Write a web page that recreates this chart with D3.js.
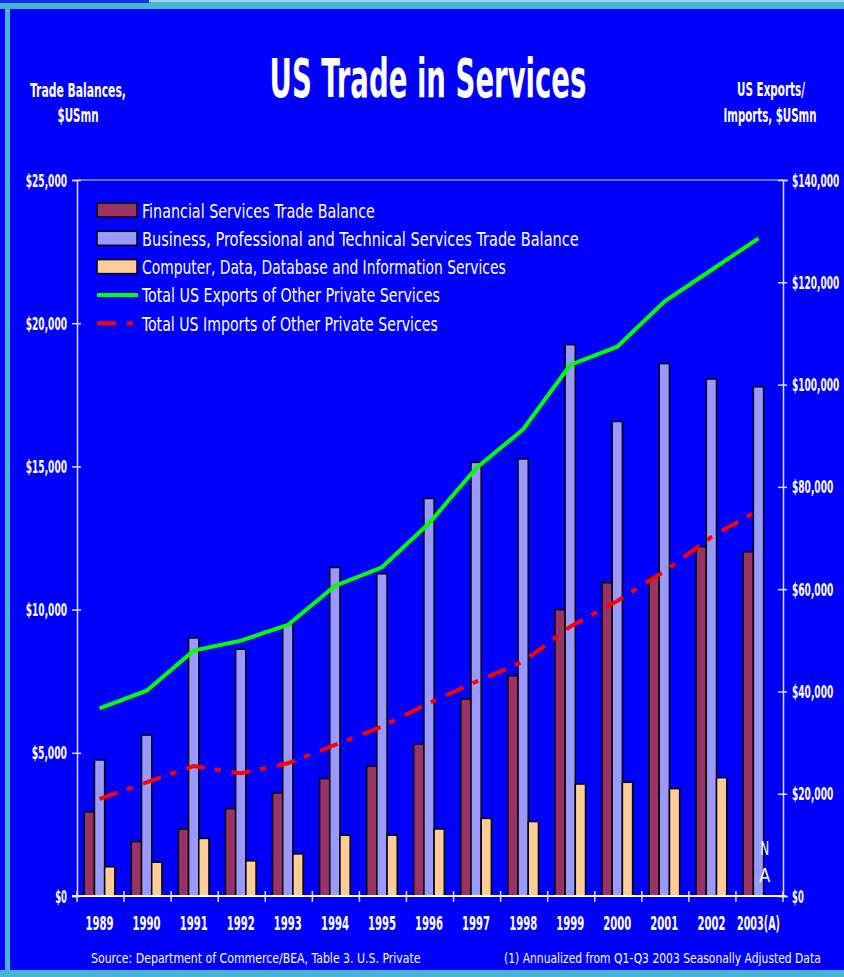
<!DOCTYPE html>
<html>
<head>
<meta charset="utf-8">
<script src="https://cdn.jsdelivr.net/npm/d3@7"></script>
<style>
  body { margin: 0; background: #0000ff; }
  svg text { font-family: "Liberation Sans Narrow", "Arial Narrow", "DejaVu Sans Condensed", sans-serif; fill: #ffffff; }
</style>
</head>
<body>
<svg id="chart" width="844" height="977"></svg>
<script>
const years = ["1989","1990","1991","1992","1993","1994","1995","1996","1997","1998","1999","2000","2001","2002","2003(A)"];
const financial = [2940,1900,2340,3050,3600,4100,4540,5300,6880,7690,10000,10940,11150,12200,12020];
const business = [4750,5620,9010,8620,9500,11470,11250,13880,15140,15260,19250,16570,18590,18050,17780];
const computer = [1020,1180,2010,1230,1470,2120,2120,2340,2710,2600,3910,3970,3750,4130,null];
const exportsTotal = [36700,40150,47970,49930,53000,60620,64270,72880,83630,91260,103830,107410,116210,122400,128600];
const importsTotal = [18970,22230,25420,23990,25950,29530,33110,37750,41900,45810,52660,57700,63500,70200,75480];
const leftTicks = [0,5000,10000,15000,20000,25000];
const rightTicks = [0,20000,40000,60000,80000,100000,120000,140000];

const barSeries = [
  {key: "fin", name: "Financial Services Trade Balance", values: financial, color: "#993366"},
  {key: "bus", name: "Business, Professional and Technical Services Trade Balance", values: business, color: "#9999ff"},
  {key: "comp", name: "Computer, Data, Database and Information Services", values: computer, color: "#ffcc99"}
];
const lineSeries = [
  {name: "Total US Exports of Other Private Services", values: exportsTotal, color: "#00ff00", dash: null},
  {name: "Total US Imports of Other Private Services", values: importsTotal, color: "#ff0000", dash: "19,10,6,11"}
];

const svg = d3.select("#chart");
const plot = {left: 77, right: 783, top: 180, bottom: 896};

// squeeze a text horizontally to a given width, keeping its anchor point
function fit(sel, px, py, w) {
  sel.each(function() {
    const len = this.getComputedTextLength();
    const sx = len > 0 ? w / len : 1;
    d3.select(this).attr("x", 0).attr("y", 0)
      .attr("transform", `translate(${px},${py}) scale(${sx},1)`);
  });
}

// frame strips
svg.append("rect").attr("x", 0).attr("y", 0).attr("width", 844).attr("height", 977).attr("fill", "#0000ff");
svg.append("rect").attr("x", 0).attr("y", 0).attr("width", 844).attr("height", 3).attr("fill", "#a0d0ec");
svg.append("rect").attr("x", 0).attr("y", 2).attr("width", 844).attr("height", 7).attr("fill", "#48b4d4");
svg.append("rect").attr("x", 0).attr("y", 0).attr("width", 149).attr("height", 3).attr("fill", "#1a30f0");
svg.append("rect").attr("x", 5).attr("y", 9).attr("width", 5).attr("height", 968).attr("fill", "#48b4d4");
svg.append("rect").attr("x", 0).attr("y", 970).attr("width", 844).attr("height", 7).attr("fill", "#48b4d4");

// titles
svg.append("text").attr("text-anchor", "middle")
  .style("font-size", "53px").style("font-weight", "bold").text("US Trade in Services")
  .call(fit, 428, 97, 317);
const axisTitles = [
  {t: "Trade Balances,", x: 78, y: 97, w: 96},
  {t: "$USmn", x: 78, y: 122, w: 41},
  {t: "US Exports/", x: 771, y: 96, w: 68},
  {t: "Imports, $USmn", x: 770, y: 122, w: 93}
];
axisTitles.forEach(a => {
  svg.append("text").attr("text-anchor", "middle")
    .style("font-size", "19px").style("font-weight", "bold").text(a.t).call(fit, a.x, a.y, a.w);
});

// scales
const x = d3.scaleBand().domain(years).range([plot.left, plot.right])
  .paddingInner(0.35).paddingOuter(0.175).align(0.44);
const xSub = d3.scaleBand().domain(barSeries.map(s => s.key)).range([0, x.bandwidth()]);
const yLeft = d3.scaleLinear().domain([0, 25000]).range([plot.bottom, plot.top]);
const yRight = d3.scaleLinear().domain([0, 140000]).range([plot.bottom, plot.top]);
const money = d => "$" + d3.format(",")(d);

// top border of plot
svg.append("line").attr("x1", plot.left).attr("x2", plot.right)
  .attr("y1", plot.top).attr("y2", plot.top)
  .attr("stroke", "#7070a8").attr("stroke-width", 2);

// bars
const groups = svg.append("g").selectAll("g").data(years).join("g")
  .attr("transform", d => `translate(${x(d)},0)`);
groups.selectAll("rect")
  .data((d, i) => barSeries.filter(s => s.values[i] != null).map(s => ({key: s.key, color: s.color, value: s.values[i]})))
  .join("rect")
  .attr("x", d => xSub(d.key))
  .attr("width", xSub.bandwidth())
  .attr("y", d => yLeft(d.value))
  .attr("height", d => plot.bottom - yLeft(d.value))
  .attr("fill", d => d.color)
  .attr("stroke", "#000000")
  .attr("stroke-width", 1.5);

// N/A marker for missing computer services
computer.forEach((v, i) => {
  if (v == null) {
    const nx = x(years[i]) + xSub("comp") + xSub.bandwidth() / 2 - 4;
    svg.append("text").attr("text-anchor", "middle")
      .style("font-size", "20px").text("N").call(fit, nx, 855, 9);
    svg.append("text").attr("text-anchor", "middle")
      .style("font-size", "20px").text("A").call(fit, nx, 882, 11);
  }
});

// axes
const leftAxis = svg.append("g").attr("transform", `translate(${plot.left},0)`)
  .call(d3.axisLeft(yLeft).tickValues(leftTicks).tickFormat(money).tickSize(5));
leftAxis.selectAll(".tick line").attr("x1", 4).attr("x2", -5);
const rightAxis = svg.append("g").attr("transform", `translate(${plot.right},0)`)
  .call(d3.axisRight(yRight).tickValues(rightTicks).tickFormat(money).tickSize(5));
rightAxis.selectAll(".tick line").attr("x1", -5).attr("x2", 4);
[leftAxis, rightAxis].forEach(a => {
  a.select(".domain").attr("stroke", "#e0e0ff").attr("stroke-width", 1.5);
  a.selectAll(".tick line").attr("stroke", "#e0e0ff").attr("stroke-width", 1.5);
  a.selectAll(".tick text").style("font-size", "18px").style("font-weight", "bold")
    .attr("fill", "#ffffff").attr("dy", null);
});
leftAxis.selectAll(".tick text").each(function() {
  d3.select(this).call(fit, -10, 6, this.textContent.length * 5.9);
});
rightAxis.selectAll(".tick text").each(function() {
  d3.select(this).call(fit, 9, 6, this.textContent.length * 5.9);
});

// category axis
svg.append("line").attr("x1", 72).attr("x2", 786).attr("y1", plot.bottom).attr("y2", plot.bottom)
  .attr("stroke", "#ffffff").attr("stroke-width", 2);
svg.append("g").selectAll("line").data(d3.range(years.length + 1)).join("line")
  .attr("x1", i => plot.left + i * x.step()).attr("x2", i => plot.left + i * x.step())
  .attr("y1", plot.bottom - 5).attr("y2", plot.bottom + 6)
  .attr("stroke", "#e0e0ff").attr("stroke-width", 1.5);
svg.append("g").selectAll("text").data(years).join("text")
  .attr("text-anchor", "middle")
  .style("font-size", "19px").style("font-weight", "bold")
  .text(d => d)
  .each(function(d) {
    d3.select(this).call(fit, x(d) + x.bandwidth() / 2, 930, d.length === 4 ? 28 : 43);
  });

// lines
const cx = (d, i) => x(years[i]) + x.bandwidth() / 2;
lineSeries.forEach(s => {
  const line = d3.line().x((d, i) => cx(d, i)).y(d => yRight(d));
  svg.append("path").datum(s.values)
    .attr("d", line)
    .attr("fill", "none")
    .attr("stroke", s.color)
    .attr("stroke-width", 4)
    .attr("stroke-dasharray", s.dash);
});

// legend
const legend = svg.append("g").attr("transform", "translate(97,203)");
const rowH = 28.3;
const legendWidths = [233, 437, 364, 298, 296];
barSeries.forEach((s, i) => {
  legend.append("rect").attr("x", 0).attr("y", i * rowH).attr("width", 40).attr("height", 14)
    .attr("fill", s.color).attr("stroke", "#000000").attr("stroke-width", 1.5);
});
lineSeries.forEach((s, j) => {
  const i = barSeries.length + j;
  legend.append("line").attr("x1", 0).attr("x2", 41)
    .attr("y1", i * rowH + 7).attr("y2", i * rowH + 7)
    .attr("stroke", s.color).attr("stroke-width", 4)
    .attr("stroke-dasharray", s.dash ? "19,11,6,20" : null);
});
[...barSeries, ...lineSeries].forEach((s, i) => {
  legend.append("text")
    .style("font-size", "19.5px").text(s.name).call(fit, 45, i * rowH + 14.5, legendWidths[i]);
});

// footnotes
svg.append("text").style("font-size", "14px").attr("fill", "#e8e8ff")
  .text("Source: Department of Commerce/BEA, Table 3. U.S. Private").call(fit, 91, 963, 330);
svg.append("text").style("font-size", "14px").attr("fill", "#e8e8ff")
  .text("(1) Annualized from Q1-Q3 2003 Seasonally Adjusted Data").call(fit, 504, 963, 317);
</script>
</body>
</html>
